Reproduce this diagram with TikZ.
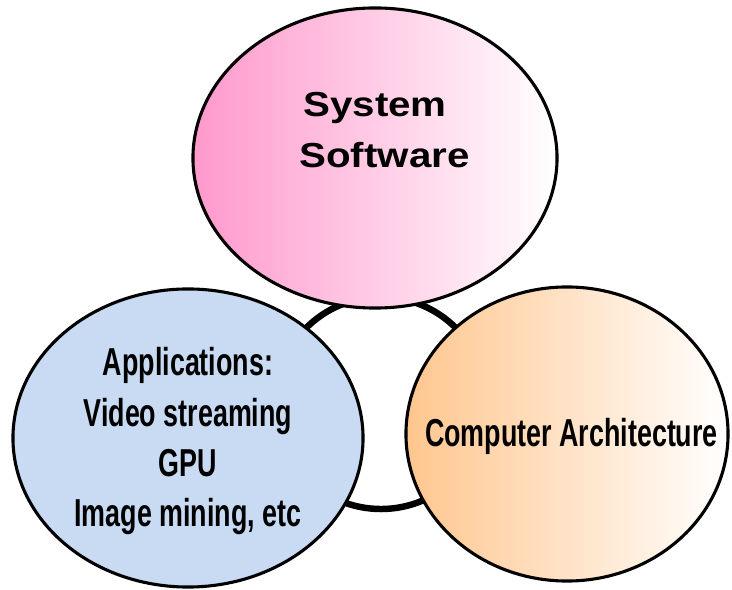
\documentclass[tikz,border=0pt]{standalone}
\usepackage{fontspec}
\usetikzlibrary{shapes.geometric}
\usetikzlibrary{positioning}
\usetikzlibrary{calc}
\newfontfamily\widefont[FakeStretch=1.16]{Liberation Sans Bold}
\newfontfamily\narrowfont[FakeStretch=0.69]{Liberation Sans Bold}
\definecolor{softpink}{HTML}{FF99CC}
\definecolor{archpeach}{HTML}{FFC68E}
\definecolor{appblue}{HTML}{C8DBF2}

\begin{document}
\begin{tikzpicture}[x=0.025cm, y=-0.025cm,
    bubble/.style={ellipse, draw=black, line width=2.2pt, inner sep=0pt},
    ring/.style={line width=4.6pt},
    bigtext/.style={font=\widefont\fontsize{24.7}{36.4}\selectfont, align=center, inner sep=0pt, anchor=base},
    smalltext/.style={font=\narrowfont\fontsize{27.7}{35.8}\selectfont, align=center, inner sep=0pt, anchor=base}]
        \useasboundingbox (0,0) rectangle (732,590);

        % ring behind the three bubbles
        \coordinate (hub) at (381,403);
        \draw [ring] (hub) circle [radius=2.65cm];

        \node [bubble, fill=appblue, minimum width=8.75cm, minimum height=7.45cm] (apps) at (188,438) {};
        \node [bubble, left color=archpeach, right color=white, minimum width=8.05cm, minimum height=7.35cm] (arch) at (567,434) {};
        \node [bubble, left color=softpink, right color=white, minimum width=9.1cm, minimum height=7.5cm] (sys) at (375,158) {};

        % base anchor sits on the last line
        \node [bigtext] (systxt) at (384.5,168) {System\hspace*{13.5pt}\\Software};
        \node [smalltext] (appstxt) at (188,527) {Applications:\\Video streaming\\GPU\\Image mining, etc};
        \node [smalltext] (archtxt) at (571.5,447) {Computer Architecture};

        %\draw [red] (0,0) rectangle (732,590);
    \end{tikzpicture}
\end{document}
